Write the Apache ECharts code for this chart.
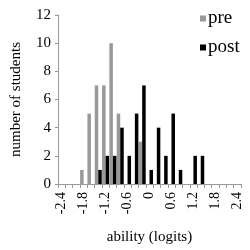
<!DOCTYPE html>
<html>
<head>
<meta charset="utf-8">
<script src="https://cdn.jsdelivr.net/npm/echarts@6/dist/echarts.min.js"></script>
<style>html,body{margin:0;padding:0;background:#fff}#c{width:250px;height:250px}</style>
</head>
<body>
<div id="c"></div>
<script>
const categories = ['-2.4','-2.2','-2.0','-1.8','-1.6','-1.4','-1.2','-1.0','-0.8','-0.6','-0.4','-0.2','0','0.2','0.4','0.6','0.8','1.0','1.2','1.4','1.6','1.8','2.0','2.2','2.4'];
const tickLabels = {'-2.4':'-2.4','-1.8':'-1.8','-1.2':'-1.2','-0.6':'-0.6','0':'0','0.6':'0.6','1.2':'1.2','1.8':'1.8','2.4':'2.4'};
const preValues  = [0,0,0,1,5,7,7,10,5,0,0,3,0,0,0,0,0,0,0,0,0,0,0,0,0];
const postValues = [0,0,0,0,0,1,2,2,4,2,5,7,1,4,2,5,1,0,2,2,0,0,0,0,0];

const font = 'Liberation Serif';
const chart = echarts.init(document.getElementById('c'), null, {renderer:'canvas'});
chart.setOption({
  animation:false,
  textStyle:{fontFamily:font},
  grid:{left:58, right:9, top:15, bottom:64, containLabel:false},
  legend:{
    orient:'vertical', left:200, top:9, padding:0,
    itemWidth:6, itemHeight:6, itemGap:10,
    textStyle:{fontFamily:font, fontSize:19, color:'#000', padding:[0,0,0,-3]},
    icon:'rect',
    data:['pre','post']
  },
  xAxis:{
    type:'category', data:categories, boundaryGap:true,
    name:'ability (logits)', nameLocation:'middle', nameGap:46,
    nameTextStyle:{fontFamily:font, fontSize:15, color:'#000'},
    axisLine:{lineStyle:{color:'#999', width:1}},
    axisTick:{show:true, interval:0, length:4, alignWithLabel:false, lineStyle:{color:'#999'}},
    axisLabel:{interval:2, rotate:90, margin:8, fontFamily:font, fontSize:14, color:'#000',
      formatter:v=>tickLabels[v]||''}
  },
  yAxis:{
    type:'value', min:0, max:12, interval:2,
    name:'number of students', nameLocation:'middle', nameGap:34,
    nameTextStyle:{fontFamily:font, fontSize:15, color:'#000'},
    axisLine:{show:true, lineStyle:{color:'#999', width:1}},
    axisTick:{show:true, length:3, lineStyle:{color:'#999'}},
    splitLine:{show:false},
    axisLabel:{fontFamily:font, fontSize:15, color:'#000', margin:7}
  },
  series:[
    {name:'pre', type:'bar', data:preValues, itemStyle:{color:'#999999'}, barGap:'0%', barCategoryGap:'4%'},
    {name:'post', type:'bar', data:postValues, itemStyle:{color:'#000000'}, barGap:'0%', barCategoryGap:'4%'}
  ]
});
</script>
</body>
</html>
